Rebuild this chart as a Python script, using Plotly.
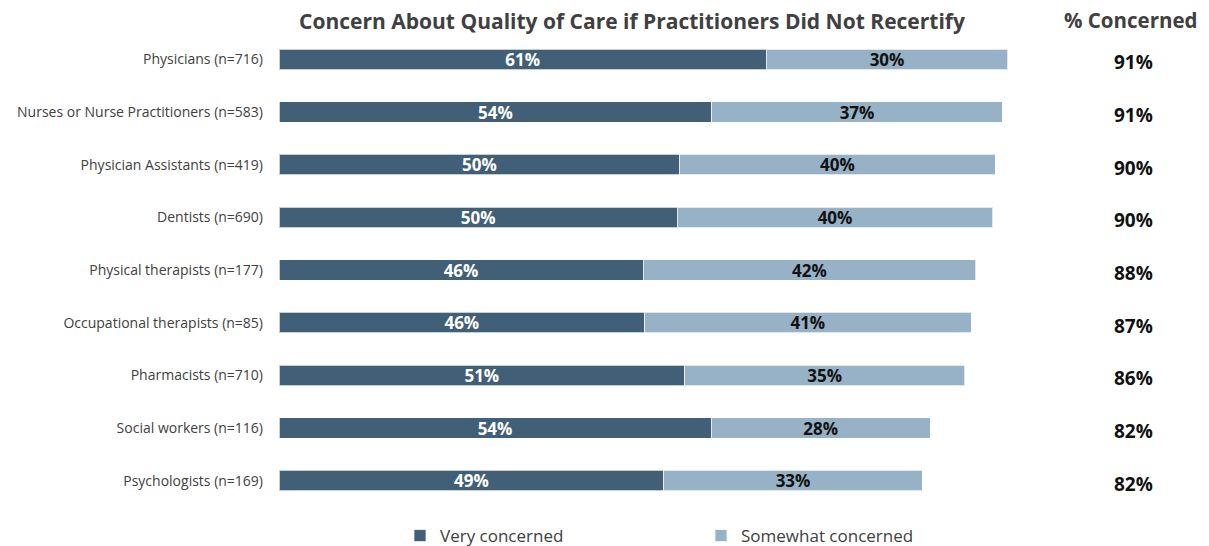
import plotly.graph_objects as go

categories = [
    "Physicians (n=716)",
    "Nurses or Nurse Practitioners (n=583)",
    "Physician Assistants (n=419)",
    "Dentists (n=690)",
    "Physical therapists (n=177)",
    "Occupational therapists (n=85)",
    "Pharmacists (n=710)",
    "Social workers (n=116)",
    "Psychologists (n=169)",
]
very_concerned = [60.9, 54.1, 50.1, 49.8, 45.5, 45.7, 50.7, 54.0, 48.1]
somewhat_concerned = [30.2, 36.3, 39.4, 39.4, 41.6, 40.8, 35.0, 27.4, 32.3]
very_labels = ["61%", "54%", "50%", "50%", "46%", "46%", "51%", "54%", "49%"]
somewhat_labels = ["30%", "37%", "40%", "40%", "42%", "41%", "35%", "28%", "33%"]
total_labels = ["91%", "91%", "90%", "90%", "88%", "87%", "86%", "82%", "82%"]

FONT = "Open Sans"
DARK = "#415f76"
LIGHT = "#97b1c6"
TEXT = "#404040"

PLOT_L, PLOT_T, PLOT_B = 279, 33, 39
PLOT_W = 1209 - PLOT_L
PLOT_H = 546 - PLOT_T - PLOT_B

fig = go.Figure()
fig.add_trace(go.Bar(
    y=categories, x=very_concerned, orientation="h", name="Very concerned",
    marker=dict(color=DARK, line=dict(color="rgba(255,255,255,0.7)", width=1)),
    text=very_labels, textposition="inside", insidetextanchor="middle",
    textangle=0, constraintext="none",
    textfont=dict(family=FONT, size=17, color="white", weight="bold"),
    width=0.39,
))
fig.add_trace(go.Bar(
    y=categories, x=somewhat_concerned, orientation="h", name="Somewhat concerned",
    marker=dict(color=LIGHT, line=dict(color="rgba(255,255,255,0.7)", width=1)),
    text=somewhat_labels, textposition="inside", insidetextanchor="middle",
    textangle=0, constraintext="none",
    textfont=dict(family=FONT, size=17, color="#111111", weight="bold"),
    width=0.39,
))

for cat, lab in zip(categories, total_labels):
    fig.add_annotation(
        x=(1133 - PLOT_L) / PLOT_W, xref="paper", y=cat, yref="y",
        text=lab, showarrow=False, xanchor="center", yanchor="middle", yshift=-3,
        font=dict(family=FONT, size=19, color="#111111", weight="bold"),
    )

fig.add_annotation(
    x=(1131 - PLOT_L) / PLOT_W, xref="paper", y=1 + (PLOT_T - 20) / PLOT_H, yref="paper",
    text="% Concerned", showarrow=False, xanchor="center", yanchor="middle",
    font=dict(family=FONT, size=20.5, color=TEXT, weight="bold"),
)

fig.update_layout(
    width=1209, height=546,
    margin=dict(l=PLOT_L, r=0, t=PLOT_T, b=PLOT_B),
    paper_bgcolor="white", plot_bgcolor="white",
    barmode="stack",
    title=dict(
        text="Concern About Quality of Care if Practitioners Did Not Recertify",
        x=632 / 1209, xanchor="center", y=1 - 22 / 546, yanchor="middle",
        xref="container", yref="container",
        font=dict(family=FONT, size=21, color=TEXT, weight="bold"),
    ),
    xaxis=dict(range=[0, PLOT_W / 8.0], visible=False, fixedrange=True),
    yaxis=dict(
        autorange="reversed", showgrid=False, zeroline=False, showline=False,
        ticks="", ticklabelstandoff=15,
        tickfont=dict(family=FONT, size=14, color=TEXT),
    ),
    legend=dict(
        orientation="h", xref="container", yref="container",
        x=400 / 1209, xanchor="left", y=1 - 536 / 546, yanchor="middle",
        entrywidth=256, entrywidthmode="pixels", itemwidth=30,
        font=dict(family=FONT, size=17, color=TEXT),
        traceorder="normal",
    ),
    showlegend=True,
)

fig.write_html(
    "out.html",
    config={"displayModeBar": False},
    post_script="document.body.style.margin='0';",
)
